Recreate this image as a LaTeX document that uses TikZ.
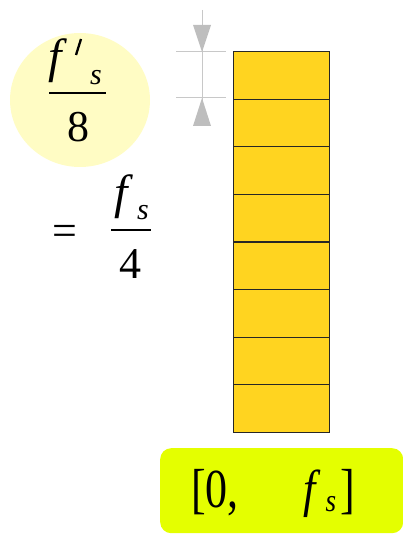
\documentclass[tikz,border=0pt]{standalone}
\usepackage{fontspec}
\usepackage{graphicx}
\newfontfamily\tms{Liberation Serif}
\definecolor{cellfill}{RGB}{255,212,32}
\definecolor{circfill}{RGB}{255,252,196}
\definecolor{boxfill}{RGB}{228,255,0}
\definecolor{dimgray}{RGB}{200,200,200}
\definecolor{arrgray}{RGB}{190,190,190}
\tikzset{
  cell/.style={draw=black!85, line width=0.9pt, fill=cellfill, minimum width=96pt, minimum height=47.6pt, inner sep=0pt, anchor=north west},
  big/.style={inner sep=0pt, anchor=base, font=\tms\fontsize{48}{50}\selectfont\itshape},
  bigup/.style={inner sep=0pt, anchor=base, font=\tms\fontsize{44}{50}\selectfont},
  sub/.style={inner sep=0pt, anchor=base, font=\tms\fontsize{30}{32}\selectfont\itshape},
  dimline/.style={draw=dimgray, line width=1pt},
  dimarrow/.style={fill=arrgray, draw=none}
}
\begin{document}
\begin{tikzpicture}[x=1pt,y=-1pt]
\useasboundingbox (0,0) rectangle (403,534);
% circle
\fill[circfill] (80,100) ellipse [x radius=70, y radius=67];
% stack of cells
\foreach \i in {0,...,7}{
  \node[cell] (c\i) at (233,{51+47.625*\i}) {};
}
% dimension
\coordinate (d1) at (202,52);
\coordinate (d2) at (202,98);
\draw[dimline] (202,10) -- (202,126);
\draw[dimline] (176,52) -- (226,52);
\draw[dimline] (176,98) -- (226,98);
\fill[dimarrow] (d1) -- (193,25) -- (211,25) -- cycle;
\fill[dimarrow] (d2) -- (193,126) -- (211,126) -- cycle;
% fraction f'_s / 8
\node[big] (f1) at (55,73) {f};
\draw[line width=2.3pt] (81,39) -- (76,55);
\coordinate (p1) at (78,47);
\node[sub] (s1) at (96,85) {s};
\draw[line width=2.6pt] (49,93) -- (106,93);
\node[bigup] (n8) at (78,142) {8};
% = f_s / 4
\node[bigup] (eq) at (65,245) {=};
\node[big] (f2) at (121,208) {f};
\node[sub] (s2) at (143,219) {s};
\draw[line width=2.6pt] (111,230) -- (151,230);
\node[bigup] (n4) at (130,278) {4};
% bottom box
\node[fill=boxfill, rounded corners=11pt, minimum width=243pt, minimum height=85pt, inner sep=0pt, anchor=north west] (range) at (160,448) {};
\node[inner sep=0pt, anchor=base west, font=\tms\fontsize{55}{58}\selectfont] (lb) at (191,507) {\scalebox{0.8}[1]{[0,}};
\node[inner sep=0pt, anchor=base, font=\tms\fontsize{52}{56}\selectfont\itshape] (f3) at (310,506) {\scalebox{0.85}[1]{f}};
\node[inner sep=0pt, anchor=base, font=\tms\fontsize{32}{36}\selectfont\itshape] (s3) at (331,511) {\scalebox{0.85}[1]{s}};
\node[inner sep=0pt, anchor=base, font=\tms\fontsize{55}{58}\selectfont] (rb) at (348,507) {\scalebox{0.8}[1]{]}};
\end{tikzpicture}
\end{document}
